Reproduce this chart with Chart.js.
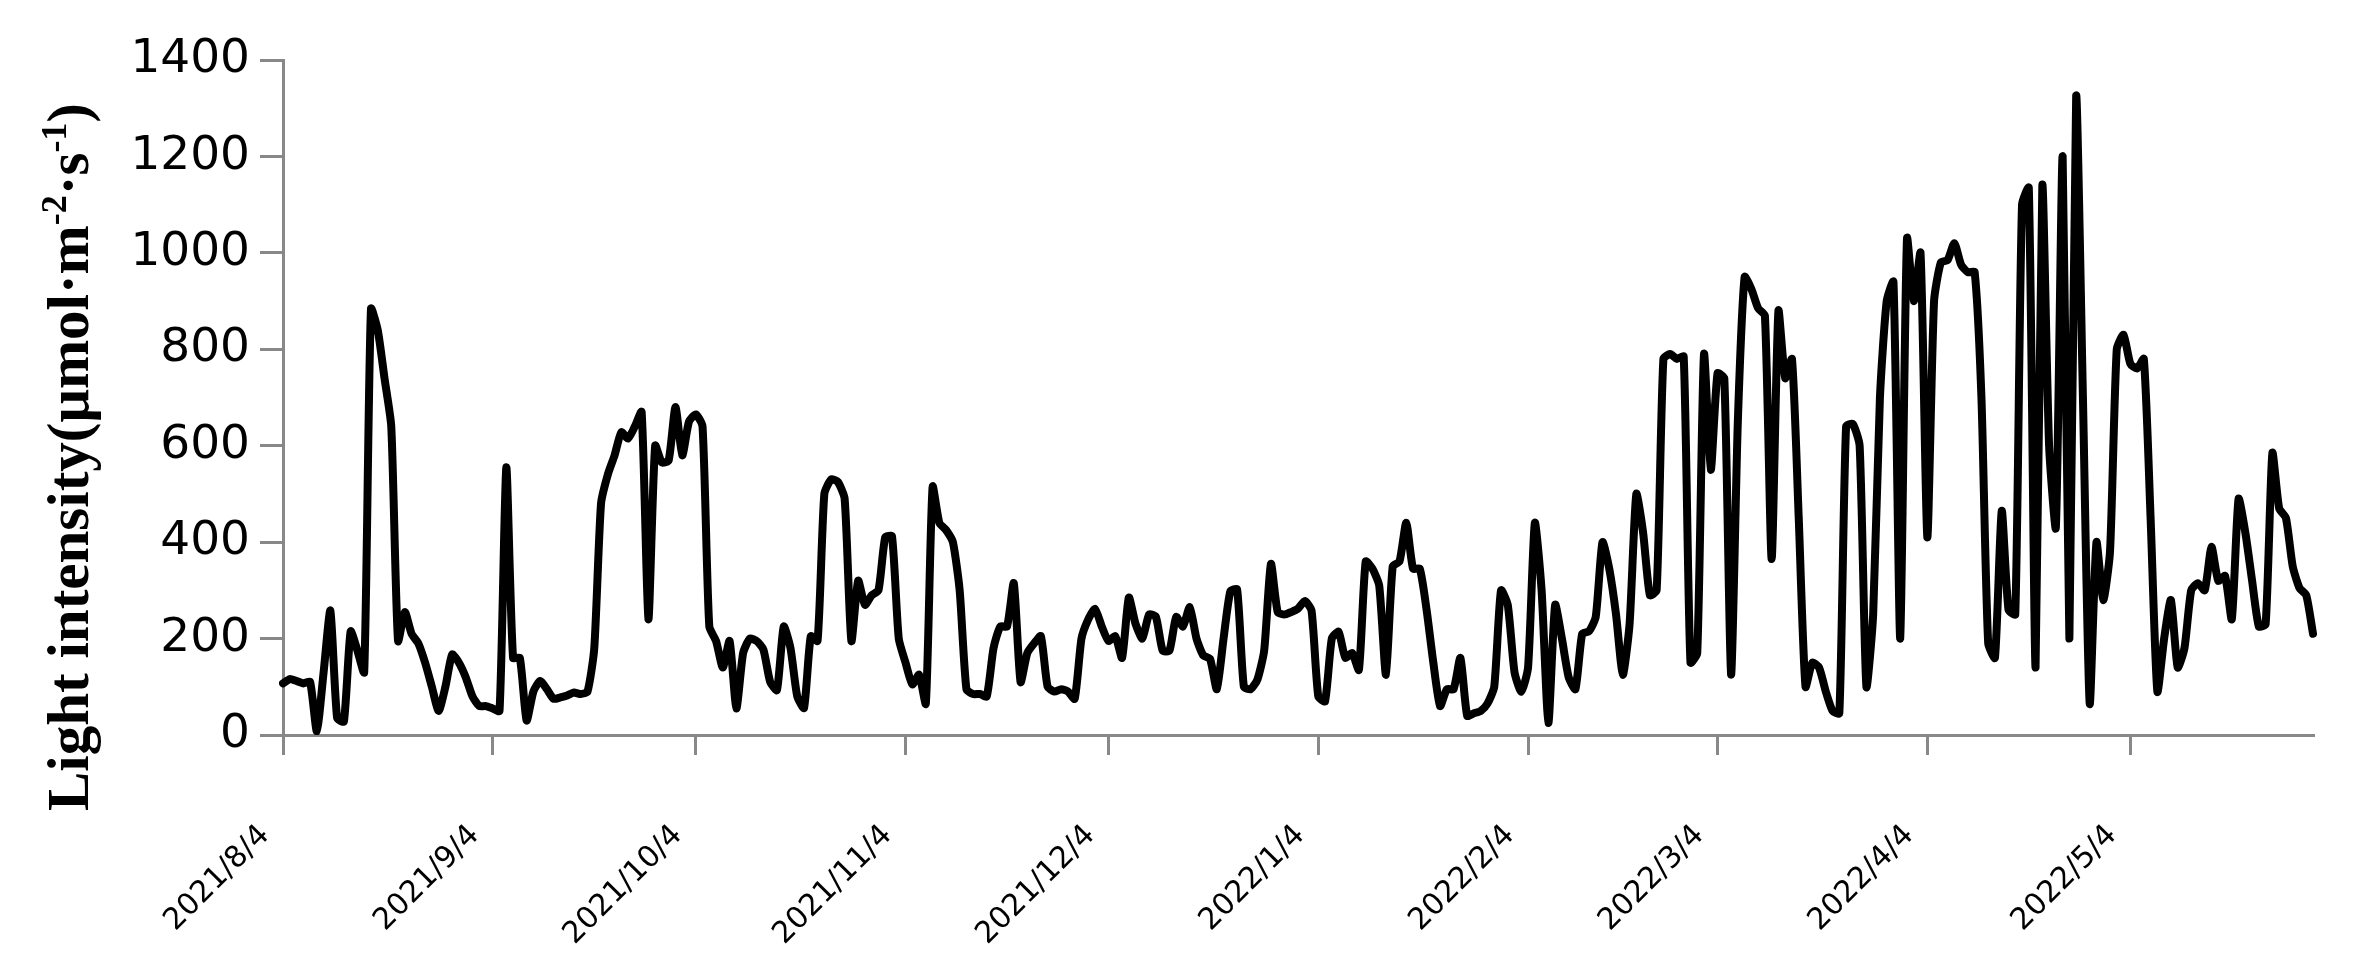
<!DOCTYPE html>
<html>
<head>
<meta charset="utf-8">
<script src="https://cdn.jsdelivr.net/npm/chart.js@4.4.1/dist/chart.umd.min.js"></script>
<style>
    html, body { margin:0; padding:0; background:#fff; }
    #wrap { width:2366px; height:978px; position:relative; }
</style>
</head>
<body>
<div id="wrap"><canvas id="line_chart_light"></canvas></div>
<script>
// daily light intensity, one array per month (2021/8/4 .. 2022/5/31)
var aug2021 = [107,116,112,107,110,8,130,258,35,28,215,175,130,884,840,740,640,195,255,210,190,150,100,50,100,167,150,120];
var sep2021 = [80,60,60,55,50,555,160,160,30,90,112,95,75,78,82,88,85,90,180,480,540,580,628,615,640,670,240,600,565,570];
var oct2021 = [680,580,650,665,640,225,195,140,195,55,170,200,195,177,110,93,225,180,80,56,205,195,500,530,525,490,195,320,270,290,300];
var nov2021 = [410,412,200,150,105,125,65,515,440,425,400,300,95,85,85,80,180,225,225,315,110,170,190,205,100,90,95,90,75,200];
var dec2021 = [240,262,225,195,205,160,285,230,200,250,245,175,175,245,225,265,200,165,158,95,200,298,302,100,95,115,175,355,255,250,255];
var jan2022 = [262,278,258,80,70,200,214,160,170,135,360,345,310,125,350,360,440,345,345,260,150,60,95,95,160,40,45,50,65,100,300];
var feb2022 = [270,130,90,140,440,300,25,270,200,120,95,210,215,245,400,345,250,125,230,500,420,290,300,780,790,780,785,150];
var mar2022 = [170,790,550,750,740,125,650,950,925,885,870,365,880,740,780,450,100,150,140,90,50,45,640,645,600,100,250,700,900,940,200];
var apr2022 = [1030,900,1000,410,900,980,985,1020,975,960,960,700,190,160,465,260,250,1100,1135,140,1140,600,430,1200,200,1325,700,65,400,280];
var may2022 = [380,800,830,770,760,780,450,90,200,280,140,180,300,315,300,390,320,330,240,490,420,320,225,230,585,470,450,350,305,290,210];

var tickLabels = ["2021/8/4","2021/9/4","2021/10/4","2021/11/4","2021/12/4","2022/1/4","2022/2/4","2022/3/4","2022/4/4","2022/5/4"];
var yTicks = [0,200,400,600,800,1000,1200,1400];
var yTitle = ["Light intensity(μmol·m", "-2", "·s", "-1", ")"];

var lightData = [].concat(aug2021, sep2021, oct2021, nov2021, dec2021, jan2022, feb2022, mar2022, apr2022, may2022);

function getDayLabels(n){
    var out = [];
    var d = new Date(2021, 7, 4);
    for(var i = 0; i < n; i++){
        out.push(d.getFullYear() + "/" + (d.getMonth()+1) + "/" + d.getDate());
        d.setDate(d.getDate() + 1);
    }
    return out;
}
var dayLabels = getDayLabels(lightData.length);

var axisGray = '#888888';

// y axis title with superscripts, drawn a bit below the middle like the original
var yTitlePlugin = {
    id: 'yTitle',
    afterDraw: function(chart){
        var ctx = chart.ctx;
        var big = 'bold 59px "Liberation Serif", "Times New Roman", serif';
        var small = 'bold 36px "Liberation Serif", "Times New Roman", serif';
        var total = 0;
        var widths = [];
        for(var i = 0; i < yTitle.length; i++){
            ctx.font = (i % 2 == 1) ? small : big;
            widths.push(ctx.measureText(yTitle[i]).width);
            total += widths[i];
        }
        ctx.save();
        ctx.translate(73, 457);
        ctx.rotate(-Math.PI/2);
        ctx.fillStyle = '#000';
        ctx.textBaseline = 'middle';
        ctx.textAlign = 'left';
        var x = -total/2;
        for(var j = 0; j < yTitle.length; j++){
            ctx.font = (j % 2 == 1) ? small : big;
            ctx.fillText(yTitle[j], x, (j % 2 == 1) ? -16 : 0);
            x += widths[j];
        }
        ctx.restore();
    }
};

var config = {
    type: 'line',
    data: {
        labels: dayLabels,
        datasets: [{
            label: "Light intensity",
            data: lightData,
            borderColor: '#000',
            borderWidth: 8,
            borderJoinStyle: 'round',
            borderCapStyle: 'round',
            pointRadius: 0,
            tension: 0.2,
            fill: false
        }]
    },
    options: {
        responsive: true,
        maintainAspectRatio: false,
        animation: false,
        devicePixelRatio: 1,
        layout: { padding: { left: 0, top: 60, right: 53, bottom: 0 } },
        plugins: {
            legend: { display: false },
            tooltip: { enabled: false }
        },
        scales: {
            x: {
                type: 'category',
                offset: false,
                afterBuildTicks: function(scale){
                    scale.ticks = scale.ticks.filter(function(t){
                        return tickLabels.indexOf(dayLabels[t.value]) >= 0;
                    });
                },
                afterFit: function(scale){ scale.height = 243; },
                border: { display: true, color: axisGray, width: 3 },
                grid: { display: true, drawOnChartArea: false, drawTicks: true, tickLength: 20, color: axisGray, lineWidth: 3, offset: false },
                ticks: {
                    autoSkip: false,
                    maxRotation: 45,
                    minRotation: 45,
                    padding: 63,
                    labelOffset: -18,
                    color: '#000',
                    font: { family: '"DejaVu Sans", Verdana, sans-serif', size: 30 }
                }
            },
            y: {
                min: 0,
                max: 1400,
                afterBuildTicks: function(scale){
                    scale.ticks = yTicks.map(function(v){ return { value: v }; });
                },
                afterFit: function(scale){ scale.width = 283; },
                border: { display: true, color: axisGray, width: 3 },
                grid: { display: true, drawOnChartArea: false, drawTicks: true, tickLength: 23, color: axisGray, lineWidth: 3 },
                ticks: {
                    padding: 10,
                    color: '#000',
                    font: { family: '"DejaVu Sans", Verdana, sans-serif', size: 47 },
                    callback: function(v){ return String(v); }
                }
            }
        }
    },
    plugins: [yTitlePlugin]
};

var chartLight = new Chart(document.getElementById("line_chart_light").getContext("2d"), config);
</script>
</body>
</html>
